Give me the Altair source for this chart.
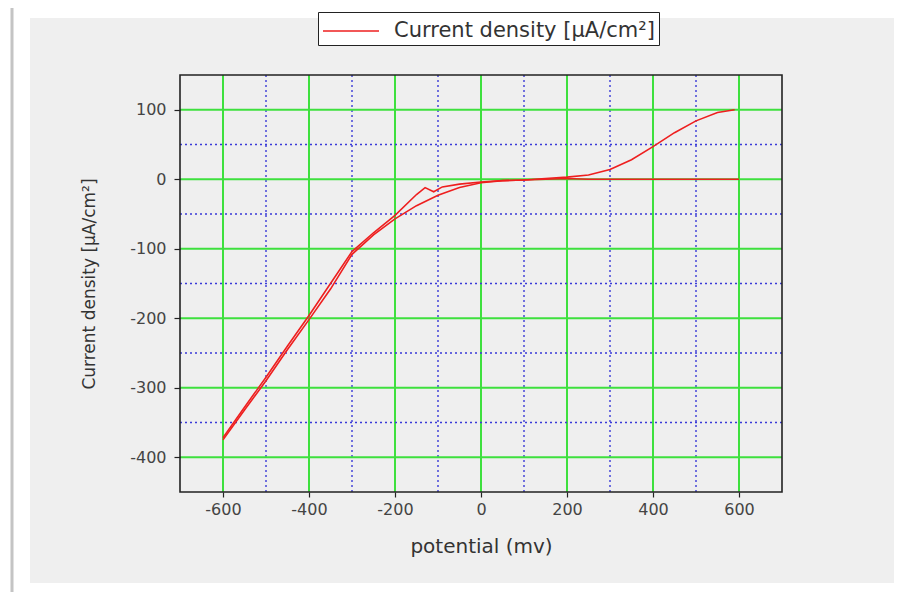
import altair as alt
import pandas as pd

# ---- data ----
fwd_potential = [-600, -550, -500, -450, -400, -350, -300, -250, -200, -150, -100, -50, 0, 50, 100, 150, 200, 250, 300, 350, 400, 450, 500, 550, 590]
fwd_current = [-375, -332, -290, -245, -202, -158, -108, -80, -57, -38, -23, -12, -5, -2, -1, 1, 3, 6, 14, 28, 47, 67, 84, 96, 100]

rev_potential = [600, 550, 500, 450, 400, 350, 300, 250, 200, 150, 100, 50, 0, -50, -90, -110, -130, -150, -200, -250, -300, -350, -400, -450, -500, -550, -600]
rev_current = [0, 0, 0, 0, 0, 0, 0, 0, 1, 0, -1, -2, -4, -7, -11, -18, -12, -22, -52, -77, -104, -150, -196, -240, -285, -328, -372]

x_major = [-600, -400, -200, 0, 200, 400, 600]
x_minor = [-500, -300, -100, 100, 300, 500]
y_major = [100, 0, -100, -200, -300, -400]
y_minor = [50, -50, -150, -250, -350]
x_domain = [-700, 700]
y_domain = [-450, 150]
series_name = "Current density [µA/cm²]"
x_title = "potential (mv)"
y_title = "Current density [µA/cm²]"

rows = []
for i, (p, c) in enumerate(zip(fwd_potential, fwd_current)):
    rows.append({"potential": p, "current": c, "branch": "forward", "idx": i, "series": series_name})
for i, (p, c) in enumerate(zip(rev_potential, rev_current)):
    rows.append({"potential": p, "current": c, "branch": "reverse", "idx": i, "series": series_name})
df = pd.DataFrame(rows)

FONT = "DejaVu Sans"
W, H = 602, 417
xs = alt.Scale(domain=x_domain, nice=False, zero=False)
ys = alt.Scale(domain=y_domain, nice=False, zero=False)

x_axis = alt.Axis(
    values=x_major, grid=False, domain=False, ticks=True, tickSize=5, tickColor="#222", tickWidth=1.2,
    labelFontSize=16, labelColor="#444", labelFont=FONT, labelPadding=4,
    labelExpr="'' + datum.value",
    title=x_title, titleFont=FONT, titleFontSize=20, titleFontWeight="normal",
    titleColor="#333", titlePadding=19, zindex=1)
y_axis = alt.Axis(
    values=y_major, grid=False, domain=False, ticks=True, tickSize=6, tickColor="#222", tickWidth=1.2,
    labelFontSize=16, labelColor="#444", labelFont=FONT, labelPadding=8,
    labelExpr="'' + datum.value",
    title=y_title, titleFont=FONT, titleFontSize=17, titleFontWeight="normal",
    titleColor="#333", titlePadding=31, zindex=1)

one = pd.DataFrame({"a": [0]})

bg = alt.Chart(one).mark_rect(fill="#efefef").encode(
    x=alt.value(-150), x2=alt.value(714), y=alt.value(-57), y2=alt.value(508)
)
side = alt.Chart(one).mark_rule(color="#c4c4c4", strokeWidth=3).encode(
    x=alt.value(-168), y=alt.value(-67), y2=alt.value(517)
)

gx_major = alt.Chart(pd.DataFrame({"potential": x_major})).mark_rule(color="#3ee03e", strokeWidth=2).encode(
    x=alt.X("potential:Q", scale=xs, axis=x_axis)
)
gx_minor = alt.Chart(pd.DataFrame({"potential": x_minor})).mark_rule(color="#3a3ad8", strokeWidth=1.4, strokeDash=[2, 3]).encode(
    x=alt.X("potential:Q", scale=xs, axis=x_axis)
)
gy_major = alt.Chart(pd.DataFrame({"current": y_major})).mark_rule(color="#3ee03e", strokeWidth=2).encode(
    y=alt.Y("current:Q", scale=ys, axis=y_axis)
)
gy_minor = alt.Chart(pd.DataFrame({"current": y_minor})).mark_rule(color="#3a3ad8", strokeWidth=1.4, strokeDash=[2, 3]).encode(
    y=alt.Y("current:Q", scale=ys, axis=y_axis)
)

frame = alt.Chart(pd.DataFrame({"potential": [x_domain[0]], "p2": [x_domain[1]],
                                "current": [y_domain[0]], "c2": [y_domain[1]]})).mark_rect(
    fillOpacity=0, stroke="#222222", strokeWidth=1.6
).encode(
    x=alt.X("potential:Q", scale=xs, axis=x_axis), x2="p2:Q",
    y=alt.Y("current:Q", scale=ys, axis=y_axis), y2="c2:Q",
)

line = alt.Chart(df).mark_line(strokeWidth=1.6).encode(
    x=alt.X("potential:Q", scale=xs, axis=x_axis),
    y=alt.Y("current:Q", scale=ys, axis=y_axis),
    color=alt.Color("series:N", scale=alt.Scale(domain=[series_name], range=["#ee1f1f"]),
                    legend=alt.Legend(
                        title=None, orient="none", legendX=138, legendY=-63,
                        symbolType="M-2,0H2", symbolSize=784, symbolStrokeWidth=1.6,
                        symbolOffset=14, labelOffset=28,
                        labelFontSize=21, labelFont=FONT, labelColor="#333", labelLimit=500,
                        padding=4, rowPadding=0, strokeColor="#222", fillColor="#ffffff")),
    detail="branch:N",
    order="idx:Q",
)

chart = alt.layer(bg, side, gx_major, gx_minor, gy_major, gy_minor, line, frame).properties(
    width=W, height=H,
    autosize=alt.AutoSizeParams(type="none"),
    padding={"left": 172, "top": 67, "right": 112, "bottom": 100},
    background="#ffffff",
).configure_view(stroke=None)

chart.save("out.html", embed_options={"renderer": "svg", "actions": False})
